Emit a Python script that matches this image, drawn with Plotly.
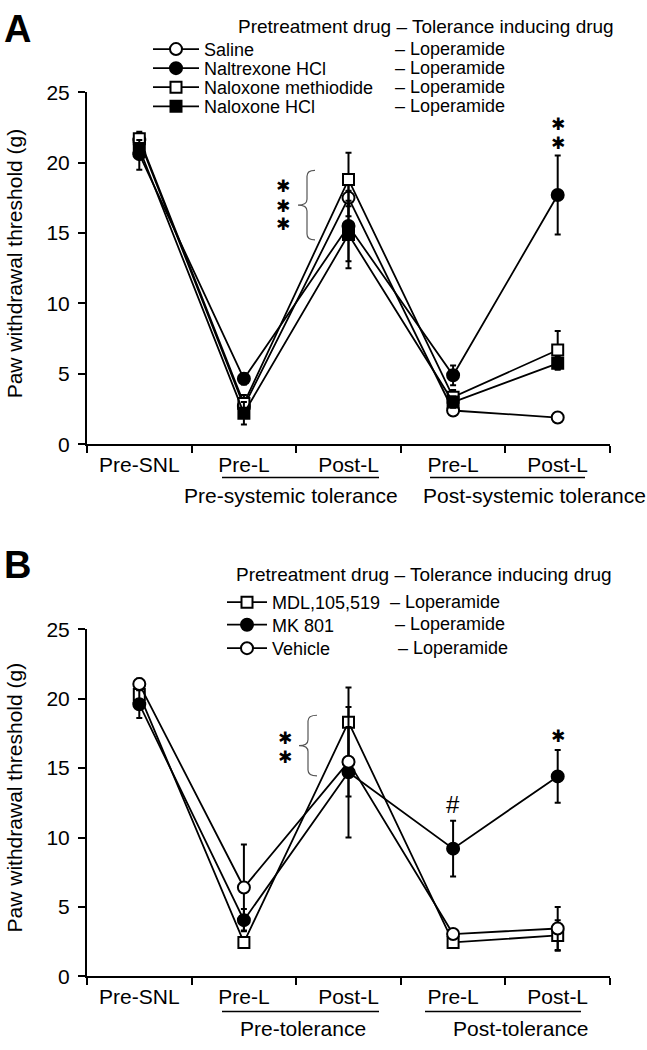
import plotly.graph_objects as go

W, H = 647, 1050
def px(x):
    return x / W
def py(y):
    return 1 - y / H

# ---------------- data ----------------
categories = ["Pre-SNL", "Pre-L", "Post-L", "Pre-L", "Post-L"]
y_ticks = [0, 5, 10, 15, 20, 25]

# Panel A  (pretreatment drug - Loperamide)
a_names = ["Saline", "Naltrexone HCl", "Naloxone methiodide", "Naloxone HCl"]
a_saline = [21.6, 2.7, 17.5, 2.4, 1.9]
a_saline_err = [0.5, 0.6, 1.3, 0.2, 0.2]
a_naltrexone = [20.6, 4.65, 15.5, 4.9, 17.7]
a_naltrexone_err = [1.1, 0.4, 2.5, 0.7, 2.8]
a_nalmeth = [21.7, 2.9, 18.8, 3.35, 6.7]
a_nalmeth_err = [0.5, 0.6, 1.9, 0.5, 1.35]
a_naloxone = [21.0, 2.2, 14.9, 3.0, 5.75]
a_naloxone_err = [0.6, 0.8, 2.4, 0.4, 0.45]

# Panel B
b_names = ["MDL,105,519", "MK 801", "Vehicle"]
b_mdl = [20.3, 2.45, 18.3, 2.45, 2.95]
b_mdl_err = [0.5, 0.3, 2.5, 0.2, 1.1]
b_mk801 = [19.6, 4.05, 14.7, 9.2, 14.4]
b_mk801_err = [1.0, 0.8, 4.7, 2.0, 1.9]
b_vehicle = [21.05, 6.4, 15.45, 3.05, 3.45]
b_vehicle_err = [0.4, 3.1, 2.5, 0.3, 1.55]

header_text = "Pretreatment drug \u2013 Tolerance inducing drug"
tol_text = "\u2013 Loperamide"
a_groups = ["Pre-systemic tolerance", "Post-systemic tolerance"]
b_groups = ["Pre-tolerance", "Post-tolerance"]
y_title = "Paw withdrawal threshold (g)"
sig_mark = "\u2731"
hash_mark = "#"

# ---------------- figure ----------------
FONT = "Arial, Liberation Sans, sans-serif"
LEG_FS = 18
xpos = [i + 0.5 for i in range(len(categories))]

OPEN = dict(color="white", line=dict(color="black", width=2))
FILLED = dict(color="black", line=dict(color="black", width=2))

def series(name, y, err, symbol, fill, xa, ya, legend):
    mk = dict(symbol=symbol, size=11 if "square" in symbol else 12, **fill)
    return go.Scatter(
        x=xpos, y=y, name=name, mode="lines+markers",
        line=dict(color="black", width=1.8),
        marker=mk, showlegend=True,
        error_y=dict(type="data", array=err, color="black", thickness=2, width=3),
        xaxis=xa, yaxis=ya, legend=legend,
    )

fig = go.Figure()
fig.add_trace(series(a_names[0], a_saline, a_saline_err, "circle", OPEN, "x", "y", "legend2"))
fig.add_trace(series(a_names[1], a_naltrexone, a_naltrexone_err, "circle", FILLED, "x", "y", "legend3"))
fig.add_trace(series(a_names[2], a_nalmeth, a_nalmeth_err, "square", OPEN, "x", "y", "legend4"))
fig.add_trace(series(a_names[3], a_naloxone, a_naloxone_err, "square", FILLED, "x", "y", "legend5"))

fig.add_trace(series(b_names[0], b_mdl, b_mdl_err, "square", OPEN, "x2", "y2", "legend6"))
fig.add_trace(series(b_names[1], b_mk801, b_mk801_err, "circle", FILLED, "x2", "y2", "legend7"))
fig.add_trace(series(b_names[2], b_vehicle, b_vehicle_err, "circle", OPEN, "x2", "y2", "legend8"))

def xaxis(anchor):
    return dict(
        domain=[px(87), px(610)], anchor=anchor, range=[0, len(categories)],
        showline=True, linewidth=2, linecolor="black", showgrid=False, zeroline=False,
        tickvals=xpos, ticktext=categories, ticks="",
        tickfont=dict(family=FONT, size=21, color="black"),
        minor=dict(tickvals=list(range(len(categories) + 1)), ticks="outside",
                   ticklen=7, tickwidth=2, tickcolor="black"),
        fixedrange=True,
    )

def yaxis(anchor, top, bottom):
    return dict(
        domain=[py(bottom), py(top)], anchor=anchor, range=[0, 25],
        showline=True, linewidth=2, linecolor="black", showgrid=False, zeroline=False,
        tickvals=y_ticks, ticks="outside", ticklen=7, tickwidth=2, tickcolor="black",
        tickfont=dict(family=FONT, size=21, color="black"), ticklabelstandoff=4,
        fixedrange=True,
    )

ann = []
def text(x, y, s, size=18, xanchor="center", bold=False, angle=0, family=FONT):
    ann.append(dict(
        x=px(x), y=py(y), xref="paper", yref="paper", text=("<b>%s</b>" % s) if bold else s,
        showarrow=False, xanchor=xanchor, yanchor="middle", textangle=angle,
        font=dict(family=family, size=size, color="black"),
    ))

def star(x, y):
    text(x, y, sig_mark, size=17, family="DejaVu Sans")

shapes = []
def hline(x0, x1, y):
    shapes.append(dict(type="line", xref="paper", yref="paper",
                       x0=px(x0), x1=px(x1), y0=py(y), y1=py(y),
                       line=dict(color="black", width=1.5)))

def brace(xv, xr, xn, y0, y1):
    ym = (y0 + y1) / 2
    r = 6
    pts = [
        "M %f,%f" % (px(xr), py(y0)),
        "Q %f,%f %f,%f" % (px(xv), py(y0), px(xv), py(y0 + r)),
        "L %f,%f" % (px(xv), py(ym - r)),
        "Q %f,%f %f,%f" % (px(xv), py(ym), px(xn), py(ym)),
        "Q %f,%f %f,%f" % (px(xv), py(ym), px(xv), py(ym + r)),
        "L %f,%f" % (px(xv), py(y1 - r)),
        "Q %f,%f %f,%f" % (px(xv), py(y1), px(xr), py(y1)),
    ]
    shapes.append(dict(type="path", xref="paper", yref="paper", path=" ".join(pts),
                       line=dict(color="#555555", width=1.2)))

# Panel labels
text(2, 17, "A", size=38, xanchor="left", bold=True)
text(2, 565, "B", size=38, xanchor="left", bold=True)

# Legend headers and tolerance-drug column
a_rows = [37.5, 57, 76.5, 96]
b_rows = [603, 626, 650]
text(236, 15, header_text, size=19, xanchor="left")
for yy in a_rows:
    text(393, yy, tol_text, size=18, xanchor="left")
text(234, 575, header_text, size=19, xanchor="left")
for xx, yy in zip([388, 393, 396], b_rows):
    text(xx, yy, tol_text, size=18, xanchor="left")

# y titles
text(14, 257, y_title, size=21, angle=-90)
text(14, 803, y_title, size=21, angle=-90)

# group labels + underlines
text(291, 494, a_groups[0], size=21)
text(534, 494, a_groups[1], size=21)
hline(222, 379, 476)
hline(430, 585, 476)
text(303, 1039, b_groups[0], size=21)
text(520, 1039, b_groups[1], size=21)
hline(222, 379, 1022)
hline(425, 581, 1022)

# significance marks, panel A
for yy in [178, 198, 217]:
    star(283, yy)
brace(307, 315, 298, 162, 233)
for yy in [114, 134]:
    star(558, yy)

# significance marks, panel B
for yy in [742, 762]:
    star(285, yy)
brace(308, 317, 299, 719, 781)
star(558, 740)
text(453, 810, hash_mark, size=24)

# one single-entry legend per row so the rows sit exactly where they do in the figure
item_h = 1.3 * LEG_FS + 3
def legend_at(left, row_center, itemwidth):
    return dict(
        x=px(left), y=py(row_center - (5 + item_h / 2)),
        xanchor="left", yanchor="top",
        bgcolor="rgba(0,0,0,0)", borderwidth=0, itemwidth=itemwidth,
        font=dict(family=FONT, size=LEG_FS, color="black"),
        itemclick=False, itemdoubleclick=False, visible=True,
    )

legends = {}
for k, r in zip(["legend2", "legend3", "legend4", "legend5"], a_rows):
    legends[k] = legend_at(148, r, 46)
for k, r in zip(["legend6", "legend7", "legend8"], b_rows):
    legends[k] = legend_at(222, r, 40)

fig.update_layout(
    width=W, height=H, autosize=False, showlegend=True,
    margin=dict(l=0, r=0, t=0, b=0),
    paper_bgcolor="white", plot_bgcolor="white",
    font=dict(family=FONT, color="black"),
    xaxis=xaxis("y"), yaxis=yaxis("x", 82, 442),
    xaxis2=xaxis("y2"), yaxis2=yaxis("x2", 631, 986),
    annotations=ann, shapes=shapes,
    **legends,
)

fig.write_html("out.html", config={"displayModeBar": False},
               post_script="document.body.style.margin='0';")
